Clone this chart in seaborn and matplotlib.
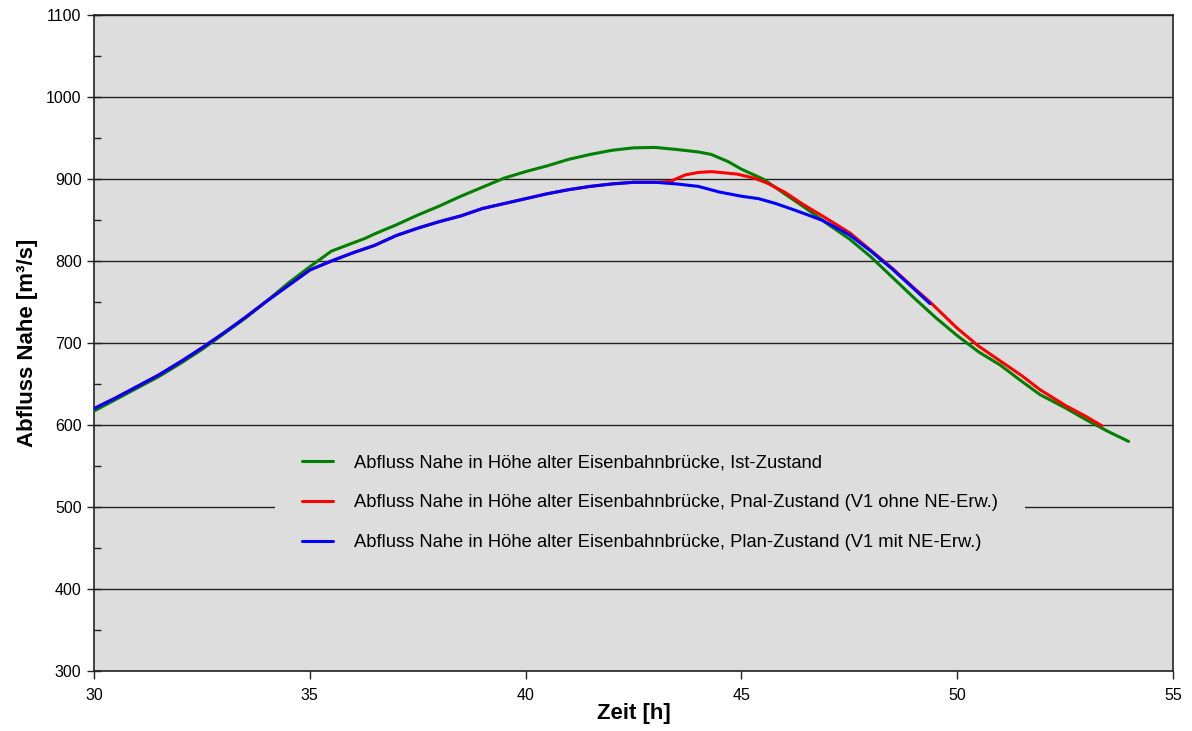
import numpy as np
import pandas as pd
import matplotlib
matplotlib.use("Agg")
import matplotlib.pyplot as plt
from matplotlib.ticker import MultipleLocator
from matplotlib.lines import Line2D
import seaborn as sns

# ---- data ----
ist_t = [30.0, 30.5, 31.0, 31.5, 32.0, 32.5, 33.0, 33.5, 34.0, 34.5, 35.0, 35.5, 36.0, 36.3,
         36.5, 37.0, 37.5, 38.0, 38.5, 39.0, 39.5, 40.0, 40.5, 41.0, 41.5, 42.0, 42.5, 43.0,
         43.5, 44.0, 44.3, 44.7, 45.0, 45.5, 46.0, 46.5, 47.0, 47.5, 48.0, 48.5, 49.0, 49.5,
         50.0, 50.5, 51.0, 51.45, 51.92, 52.5, 53.0, 53.5, 53.97]
ist_q = [617, 631, 645, 659, 675, 692, 711, 730, 751, 773, 793, 812, 822, 828,
         833, 844, 856, 867, 879, 890, 901, 909, 916, 924, 930, 935, 938, 938.5,
         936, 933, 930, 921, 912, 900, 882, 864, 845, 827, 805, 780, 755, 731,
         709, 689, 673, 655, 637, 621, 606, 592, 580]

pnal_t = [30.0, 30.5, 31.0, 31.5, 32.0, 32.5, 33.0, 33.5, 34.0, 34.5, 35.0, 35.5, 36.0, 36.5,
          37.0, 37.5, 38.0, 38.5, 39.0, 39.5, 40.0, 40.5, 41.0, 41.5, 42.0, 42.5, 43.0, 43.35,
          43.7, 44.0, 44.3, 44.9, 45.3, 45.6, 46.0, 46.43, 47.0, 47.52, 48.0, 48.5, 49.0, 49.37,
          50.0, 50.5, 51.0, 51.5, 51.92, 52.5, 53.0, 53.35]
pnal_q = [620, 633, 647, 661, 677, 694, 712, 731, 751, 770, 789, 800, 810, 819,
          831, 840, 848, 855, 864, 870, 876, 882, 887, 891, 894, 896, 896, 897,
          905, 908, 909, 906, 901, 895, 884, 869, 851, 834, 813, 791, 767, 750,
          718, 696, 678, 660, 643, 624, 610, 599]

plan_t = [30.0, 30.5, 31.0, 31.5, 32.0, 32.5, 33.0, 33.5, 34.0, 34.5, 35.0, 35.5, 36.0, 36.5,
          37.0, 37.5, 38.0, 38.5, 39.0, 39.5, 40.0, 40.5, 41.0, 41.5, 42.0, 42.5, 43.0, 43.5,
          44.0, 44.5, 45.0, 45.4, 45.8, 46.13, 46.5, 46.9, 47.5, 48.0, 48.5, 49.0, 49.37]
plan_q = [620, 633, 647, 661, 677, 694, 712, 731, 751, 770, 789, 800, 810, 819,
          831, 840, 848, 855, 864, 870, 876, 882, 887, 891, 894, 896, 896, 894,
          891, 884, 879, 876, 870, 864, 857, 849, 832, 812, 790, 766, 748]

labels = ["Abfluss Nahe in Höhe alter Eisenbahnbrücke, Ist-Zustand",
          "Abfluss Nahe in Höhe alter Eisenbahnbrücke, Pnal-Zustand (V1 ohne NE-Erw.)",
          "Abfluss Nahe in Höhe alter Eisenbahnbrücke, Plan-Zustand (V1 mit NE-Erw.)"]
colors = ["#008000", "#FF0000", "#0000FF"]

df = pd.concat([
    pd.DataFrame({"t": ist_t, "q": ist_q, "s": labels[0]}),
    pd.DataFrame({"t": pnal_t, "q": pnal_q, "s": labels[1]}),
    pd.DataFrame({"t": plan_t, "q": plan_q, "s": labels[2]}),
], ignore_index=True)

sns.set_theme(style="white")
plt.rcParams["font.family"] = ["Liberation Sans", "DejaVu Sans"]
plt.rcParams["text.color"] = "black"
plt.rcParams["axes.labelcolor"] = "black"
plt.rcParams["xtick.color"] = "black"
plt.rcParams["ytick.color"] = "black"

fig = plt.figure(figsize=(11.92, 7.31), dpi=100)
ax = fig.add_axes([94/1192, 1-671/731, (1173-94)/1192, (671-15)/731])
ax.set_facecolor("#DDDDDD")

sns.lineplot(data=df, x="t", y="q", hue="s", hue_order=labels, palette=colors,
             sort=False, estimator=None, linewidth=2.2, ax=ax, legend=False, zorder=3)

ax.set_xlim(30, 55)
ax.set_ylim(300, 1100)
ax.xaxis.set_major_locator(MultipleLocator(5))
ax.yaxis.set_major_locator(MultipleLocator(100))
ax.yaxis.set_minor_locator(MultipleLocator(50))
ax.grid(axis="y", which="major", color="#222222", linewidth=1.0, zorder=1)
ax.set_axisbelow(True)
for sp in ax.spines.values():
    sp.set_color("#222222")
    sp.set_linewidth(1.2)
    sp.set_visible(True)

ax.tick_params(axis="y", which="major", direction="inout", length=10, width=1, color="#222222",
               labelsize=11.5, pad=4, left=True)
ax.tick_params(axis="y", which="minor", direction="in", length=5, width=1, color="#222222", left=True)
ax.tick_params(axis="x", which="major", direction="out", length=6, width=1, color="#222222",
               labelsize=11.5, pad=6, bottom=True)
ax.set_xlabel("Zeit [h]", fontsize=16, fontweight="bold", labelpad=0)
ax.set_ylabel("Abfluss Nahe [m³/s]", fontsize=16, fontweight="bold", labelpad=6)

handles = [Line2D([0], [0], color=c, linewidth=2.2) for c in colors]
leg = ax.legend(handles, labels, loc="center", bbox_to_anchor=((650-94)/1079, (671-503)/656),
                frameon=True, facecolor="#DDDDDD", edgecolor="none", framealpha=1,
                fontsize=13.2, handlelength=1.7, handletextpad=1.15, labelspacing=1.25,
                borderpad=1.45, borderaxespad=0)
leg.set_zorder(5)

fig.savefig("out.png", dpi=100, facecolor="white")
